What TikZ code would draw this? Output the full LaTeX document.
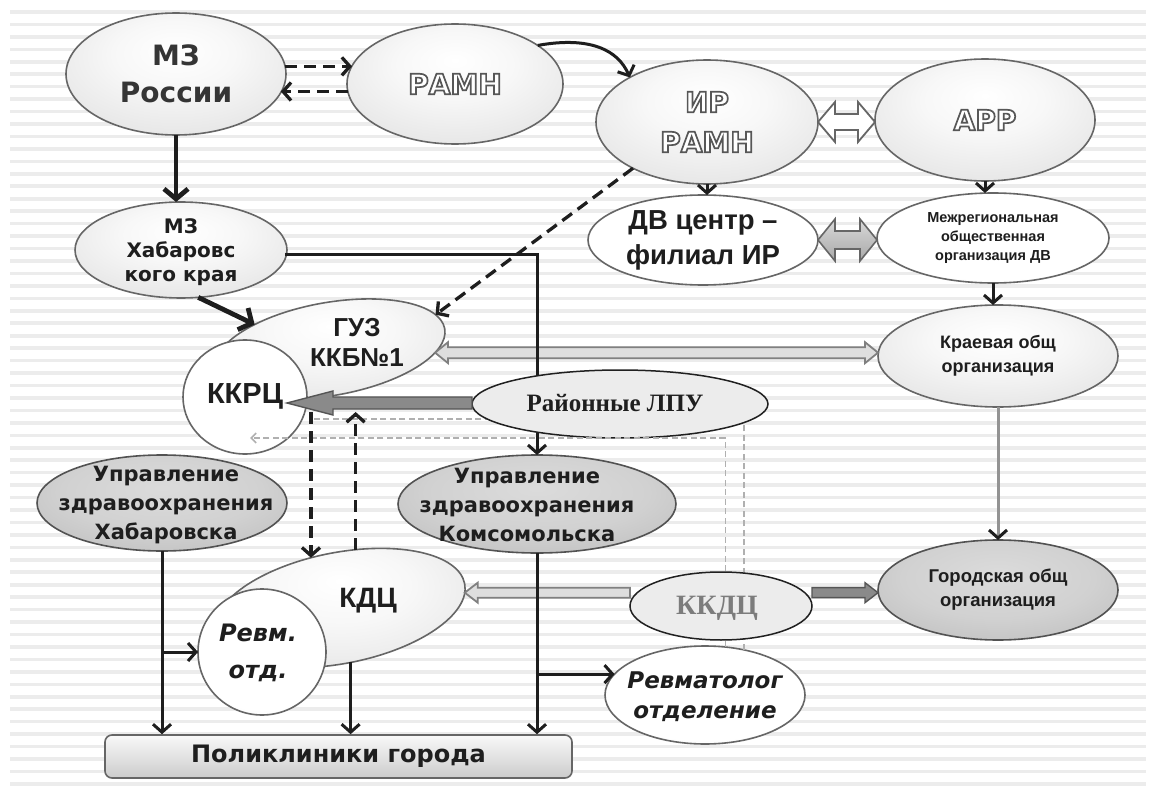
\documentclass[tikz,border=0pt]{standalone}
\usepackage{fontspec}
\setmainfont{DejaVu Sans}
\newfontfamily\fverd{DejaVu Sans}
\newfontfamily\fari{Liberation Sans}
\newfontfamily\ftms{Liberation Serif}
\usetikzlibrary{arrows.meta,shapes.geometric,calc}
\definecolor{txtd}{HTML}{1E1E1E}
\definecolor{mzc}{HTML}{353535}
\definecolor{kkdcc}{HTML}{7C7C7C}
\definecolor{rim}{HTML}{666666}
\definecolor{blkline}{HTML}{808080}
\definecolor{blkfill}{HTML}{DEDEDE}
\definecolor{dblkline}{HTML}{555555}
\definecolor{dblkfill}{HTML}{8A8A8A}
\pgfdeclareradialshading{shL}{\pgfpoint{0bp}{10bp}}{color(0bp)=(white); color(14bp)=(gray!6); color(30bp)=(gray!18); color(42bp)=(gray!32); color(50bp)=(gray!48); color(58bp)=(gray!58); color(75bp)=(gray!60)}
\pgfdeclareradialshading{shW}{\pgfpoint{0bp}{8bp}}{color(0bp)=(white); color(28bp)=(white); color(42bp)=(gray!14); color(52bp)=(gray!34); color(60bp)=(gray!42); color(75bp)=(gray!45)}
\pgfdeclareradialshading{shD}{\pgfpoint{0bp}{8bp}}{color(0bp)=(gray!28); color(20bp)=(gray!36); color(38bp)=(gray!52); color(50bp)=(gray!68); color(58bp)=(gray!76); color(75bp)=(gray!80)}
% outlined (white fill, grey stroke) text through the PDF text render mode
\newcommand\outl[1]{{\color{white}\special{pdf:literal direct q 2 Tr 1.7 w 0.34 G}#1\special{pdf:literal direct Q}}}
% double-headed block arrow: style, left tip, right tip, shaft half, head half, head length
\newcommand\dblarr[6]{\draw[#1] let \p1=(#2), \p2=(#3) in (\x1,\y1) -- (\x1+#6,\y1+#5) -- (\x1+#6,\y1+#4) -- (\x2-#6,\y1+#4) -- (\x2-#6,\y1+#5) -- (\x2,\y1) -- (\x2-#6,\y1-#5) -- (\x2-#6,\y1-#4) -- (\x1+#6,\y1-#4) -- (\x1+#6,\y1-#5) -- cycle;}
% left-pointing block arrow: style, tip (left), tail (right)
\newcommand\larr[6]{\draw[#1] let \p1=(#2), \p2=(#3) in (\x1,\y1) -- (\x1+#6,\y1+#5) -- (\x1+#6,\y1+#4) -- (\x2,\y1+#4) -- (\x2,\y1-#4) -- (\x1+#6,\y1-#4) -- (\x1+#6,\y1-#5) -- cycle;}
% right-pointing block arrow: style, tail (left), tip (right)
\newcommand\rarr[6]{\draw[#1] let \p1=(#2), \p2=(#3) in (\x1,\y1+#4) -- (\x2-#6,\y1+#4) -- (\x2-#6,\y1+#5) -- (\x2,\y1) -- (\x2-#6,\y1-#5) -- (\x2-#6,\y1-#4) -- (\x1,\y1-#4) -- cycle;}
\begin{document}
\begin{tikzpicture}[x=1pt,y=-1pt,
 stripe/.style={draw=gray!15, line width=3.6pt},
 ballL/.style={ellipse, draw=rim, line width=1.6pt, shading=shL, inner sep=0pt, outer sep=0pt},
 ballW/.style={ellipse, draw=rim, line width=1.6pt, shading=shW, inner sep=0pt, outer sep=0pt},
 ballD/.style={ellipse, draw=rim!80!black, line width=1.6pt, shading=shD, inner sep=0pt, outer sep=0pt},
 flat/.style={ellipse, draw=gray!25!black, line width=1.5pt, fill=gray!15, inner sep=0pt, outer sep=0pt},
 lbl/.style={inner sep=0pt, align=center, text=txtd},
 olbl/.style={inner sep=0pt, align=center, font={\fverd\bfseries\fontsize{28}{40}\selectfont}},
 arw/.style={draw=txtd, line width=3pt, -{Straight Barb[length=8pt,width=18pt]}},
 thickarw/.style={draw=txtd, line width=4.8pt, -{Straight Barb[length=10pt,width=24pt]}},
 dsharw/.style={draw=txtd, line width=3.3pt, dash pattern=on 12pt off 7pt, -{Straight Barb[length=8pt,width=18pt]}},
 grayarw/.style={draw=gray!85, line width=3pt, -{Straight Barb[length=8pt,width=18pt,color=txtd]}},
 gdash/.style={draw=gray!62, line width=1.6pt, dash pattern=on 6pt off 3.5pt},
 gdasharw/.style={gdash, -{Straight Barb[length=5pt,width=10pt]}},
 hollowblk/.style={draw=rim, line width=1.8pt, fill=white},
 greyblk/.style={draw=rim, line width=1.6pt, top color=gray!30, bottom color=gray!68},
 lightblk/.style={draw=blkline, line width=1.8pt, fill=blkfill},
 darkblk/.style={draw=dblkline, line width=1.4pt, fill=dblkfill},
]
\useasboundingbox (0,0) rectangle (1152,797);
\fill[white] (0,0) rectangle (1152,797);
\foreach \i in {0,...,62} \draw[stripe] (10,12+12.45*\i) -- (1146,12+12.45*\i);

% ---------- nodes ----------
\node[ballL, minimum width=220, minimum height=122] (mzr) at (176,74) {};
\node[lbl, text=mzc, font={\fverd\bfseries\fontsize{28}{37}\selectfont}] (mzrt) at (mzr.center) {МЗ\\России};
\node[ballL, minimum width=216, minimum height=120] (ramn) at (455,84) {};
\node[olbl] (ramnt) at (ramn.center) {\outl{РАМН}};
\node[ballL, minimum width=222, minimum height=124] (irramn) at (707,122) {};
\node[olbl] (irt) at (irramn.center) {\outl{ИР}\\\outl{РАМН}};
\node[ballL, minimum width=220, minimum height=122] (appr) at (985,120) {};
\node[olbl] (apprt) at (appr.center) {\outl{АРР}};
\node[ballW, minimum width=230, minimum height=90] (dv) at (703,240) {};
\node[lbl, font={\fari\bfseries\fontsize{27.5}{35}\selectfont}] (dvt) at (dv.center) {ДВ центр –\\филиал ИР};
\node[ballW, minimum width=232, minimum height=90] (mreg) at (993,238) {};
\node[lbl, font={\fari\bfseries\fontsize{14.5}{19}\selectfont}] (mregt) at (mreg.center) {Межрегиональная\\общественная\\организация ДВ};
\node[ballL, minimum width=240, minimum height=102] (kraev) at (998,356) {};
\node[lbl, font={\fari\bfseries\fontsize{18}{24}\selectfont}] (kraevt) at (kraev.center) {Краевая общ\\организация};
\node[ballD, minimum width=240, minimum height=100] (gorod) at (998,590) {};
\node[lbl, font={\fari\bfseries\fontsize{18.5}{24}\selectfont}] (gorodt) at (gorod.center) {Городская общ\\организация};
\node[ballL, minimum width=212, minimum height=96] (mzh) at (181,250) {};
\node[lbl, font={\fverd\bfseries\fontsize{20}{24}\selectfont}] (mzht) at (181,252) {МЗ\\Хабаровс\\кого края};
\node[ballL, rotate=10, minimum width=233, minimum height=93] (guz) at (330,349) {};
\node[ballW, minimum width=124, minimum height=114] (kkrc) at (245,397) {};
\node[ballD, minimum width=250, minimum height=96] (uh) at (162,503) {};
\node[lbl, font={\fverd\bfseries\fontsize{21}{29}\selectfont}] (uht) at (166,505) {Управление\\здравоохранения\\Хабаровска};
\node[ballD, minimum width=278, minimum height=98] (uk) at (537,504) {};
\node[lbl, font={\fverd\bfseries\fontsize{21}{29}\selectfont}] (ukt) at (527,505) {Управление\\здравоохранения\\Комсомольска};
\node[ballL, rotate=11, minimum width=254, minimum height=111] (kdc) at (340,608) {};
\node[ballW, minimum width=128, minimum height=126] (revm) at (262,652) {};
\node[ballW, minimum width=200, minimum height=98] (revmat) at (705,695) {};
\node[lbl, font={\fverd\bfseries\itshape\fontsize{23}{30}\selectfont}] (revmatt) at (705,697) {Ревматолог\\отделение};
\node[draw=rim, line width=1.6pt, rounded corners=7pt, top color=gray!5, bottom color=gray!40, minimum width=467, minimum height=43, inner sep=0pt, text=txtd, font={\fverd\bfseries\fontsize{24}{28}\selectfont}] (poli) at (338.5,756.5) {Поликлиники города};

% ---------- block arrows and lines behind ----------
\dblarr{hollowblk}{irramn.east}{appr.west}{8pt}{20pt}{17pt}
\dblarr{greyblk}{dv.east}{mreg.west}{9pt}{21pt}{17pt}
\dblarr{lightblk}{guz.-12}{kraev.west}{5.5pt}{10.5pt}{13pt}
\draw[arw] ($(mzh.east)+(-2,4)$) -| (uk.north);
\draw[gdash] (revmat.49) |- ($(kkrc.center)+(67,22)$);
\node[flat, minimum width=296, minimum height=68] (rl) at (620,404) {};
\node[lbl, font={\ftms\bfseries\fontsize{25}{28}\selectfont}] (rlt) at (615,403) {Районные ЛПУ};
\draw[gdasharw] (revmat.67) |- ($(kkrc.center)+(5,41)$);
\node[flat, minimum width=182, minimum height=68] (kkdc) at (721,606) {};
\node[lbl, text=kkdcc, font={\ftms\bfseries\fontsize{28}{30}\selectfont}] (kkdct) at (717,608) {ККДЦ};
\larr{darkblk}{$(kkrc.center)+(42,6)$}{rl.west}{6pt}{12pt}{46pt}
\larr{lightblk}{kdc.-4}{kkdc.west}{5pt}{10pt}{13pt}
\rarr{darkblk}{kdc.-4 -| kkdc.east}{gorod.west}{5pt}{10pt}{13pt}

% ---------- texts of overlapped nodes ----------
\node[lbl, font={\fari\bfseries\fontsize{26}{30}\selectfont}] (guzt) at (357,342) {ГУЗ\\ККБ№1};
\node[lbl, font={\fari\bfseries\fontsize{29}{32}\selectfont}] (kkrct) at (245,396) {ККРЦ};
\node[lbl, font={\fari\bfseries\fontsize{28}{32}\selectfont}] (kdct) at (368,601) {КДЦ};
\node[lbl, font={\fverd\bfseries\itshape\fontsize{24}{37}\selectfont}] (revmt) at (258,653) {Ревм.\\отд.};

% ---------- connectors ----------
\draw[dsharw] (mzr.4) -- (mzr.4 -| ramn.170);
\draw[dsharw] (ramn.184) -- (ramn.184 -| mzr.350);
\draw[draw=txtd, line width=3pt, -{Straight Barb[length=8pt,width=18pt]}] (ramn.25) .. controls (590,36) and (618,50) .. (irramn.150);
\draw[thickarw] (mzr.south) -- (mzr.south |- mzh.north);
\draw[thickarw] (mzh.-70) -- (guz.152);
\draw[dsharw] (irramn.212) -- (guz.8);
\draw[arw] (irramn.south) -- (irramn.south |- dv.north);
\draw[arw] (appr.south) -- (appr.south |- mreg.north);
\draw[arw] (mreg.south) -- (mreg.south |- kraev.north);
\draw[grayarw] (kraev.south) -- (gorod.north);
\coordinate (kkrcB) at ($(kkrc.center)+(0,15)$);
\draw[dsharw] (kdc.109 |- kkrcB) -- (kdc.109);
\draw[dsharw] (kdc.64) -- (kdc.64 |- kkrcB);
\draw[arw] (uh.south) -- (uh.south |- poli.north);
\draw[arw] (uh.south |- revm.west) -- (revm.west);
\draw[arw] (kdc.south) -- (kdc.south |- poli.north);
\draw[arw] (uk.south) -- (uk.south |- poli.north);
\draw[arw] (uk.south |- revmat.167) -- (revmat.167);
\end{tikzpicture}
\end{document}
